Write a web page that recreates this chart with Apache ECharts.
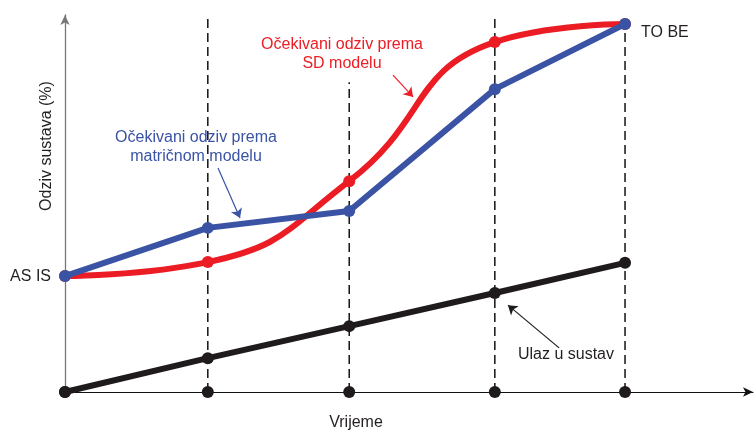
<!DOCTYPE html>
<html>
<head>
<meta charset="utf-8">
<script src="https://cdn.jsdelivr.net/npm/echarts@6/dist/echarts.min.js"></script>
<style>
  html, body { margin: 0; padding: 0; background: #fff; }
  #chart { width: 754px; height: 432px; }
</style>
</head>
<body>
<div id="chart"></div>
<script>
// vremenske tocke (od AS IS do TO BE)
const steps = [0, 1.02, 2.03, 3.07, 4];
// ulaz u sustav (crna)
const ulaz = [0, 9.2, 17.9, 26.9, 35.1];
// ocekivani odziv prema matricnom modelu (plava)
const matricni = [31.5, 44.6, 49.2, 82.3, 100];
// ocekivani odziv prema SD modelu (crvena)
const sdModel = [31.5, 35.3, 57.3, 95.1, 100];
// vrh isprekidanih okomica
const dashTops = [null, 102.4, 84.2, 101.6, 100];

const RED = '#ec1c24';
const BLUE = '#3a53a4';
const BLACK = '#1f1a1b';
const FONT = '"Liberation Sans", Arial, sans-serif';

const chart = echarts.init(document.getElementById('chart'));

const dashSeries = [];
steps.forEach((x, i) => {
  if (dashTops[i] == null) return;
  dashSeries.push({
    type: 'line',
    data: [[x, 0], [x, dashTops[i]]],
    symbol: 'none',
    silent: true,
    z: 1,
    lineStyle: { color: '#111', width: 1.5, type: [9, 5] }
  });
});

function arrow(from, to, color) {
  return [{ coord: from }, { coord: to, lineStyle: { color: color, width: 1.2, type: 'solid' } }];
}

const option = {
  animation: false,
  grid: { left: 65, right: 1, top: 15, bottom: 40 },
  xAxis: {
    type: 'value', min: 0, max: 4.914,
    axisLine: { lineStyle: { color: '#111', width: 1.2 }, symbol: ['none', 'arrow'], symbolSize: [7, 10] },
    axisTick: { show: false }, axisLabel: { show: false }, splitLine: { show: false }
  },
  yAxis: {
    type: 'value', min: 0, max: 102.45,
    axisLine: { show: true, onZero: false, lineStyle: { color: '#777', width: 1.3 }, symbol: ['none', 'arrow'], symbolSize: [7, 10] },
    axisTick: { show: false }, axisLabel: { show: false }, splitLine: { show: false }
  },
  series: [
    ...dashSeries,
    {
      name: 'os',
      type: 'scatter',
      data: steps.map(x => [x, 0]),
      symbolSize: 12,
      itemStyle: { color: BLACK, opacity: 1 },
      z: 7
    },
    {
      name: 'Ulaz u sustav',
      type: 'line',
      data: steps.map((x, i) => [x, ulaz[i]]),
      symbol: 'circle', symbolSize: 12,
      lineStyle: { color: BLACK, width: 6 },
      itemStyle: { color: BLACK },
      z: 4,
      markLine: {
        silent: true, symbol: ['none', 'arrow'], symbolSize: 9,
        label: { show: false },
        lineStyle: { color: BLACK, width: 1.2, type: 'solid' },
        data: [
          arrow([3.529, 12.0], [3.164, 23.6], BLACK),
          arrow([1.093, 60.9], [1.25, 47.3], BLUE),
          arrow([2.343, 86.1], [2.486, 80.2], RED)
        ]
      }
    },
    {
      name: 'SD model',
      type: 'line',
      data: steps.map((x, i) => [x, sdModel[i]]),
      smooth: 0.5,
      symbol: 'circle', symbolSize: 12,
      lineStyle: { color: RED, width: 6 },
      itemStyle: { color: RED },
      z: 5
    },
    {
      name: 'Matricni model',
      type: 'line',
      data: steps.map((x, i) => [x, matricni[i]]),
      symbol: 'circle', symbolSize: 12,
      lineStyle: { color: BLUE, width: 6 },
      itemStyle: { color: BLUE },
      z: 6
    }
  ],
  graphic: [
    { type: 'text', x: 342, y: 54, style: { text: 'Očekivani odziv prema\nSD modelu', fill: RED, font: '16px ' + FONT, align: 'center', verticalAlign: 'middle', lineHeight: 19 } },
    { type: 'text', x: 196, y: 147, style: { text: 'Očekivani odziv prema\nmatričnom modelu', fill: BLUE, font: '16px ' + FONT, align: 'center', verticalAlign: 'middle', lineHeight: 19 } },
    { type: 'text', x: 51, y: 277, style: { text: 'AS IS', fill: '#231f20', font: '16px ' + FONT, align: 'right', verticalAlign: 'middle' } },
    { type: 'text', x: 641, y: 33, style: { text: 'TO BE', fill: '#231f20', font: '16px ' + FONT, align: 'left', verticalAlign: 'middle' } },
    { type: 'text', x: 566, y: 355, style: { text: 'Ulaz u sustav', fill: '#231f20', font: '16px ' + FONT, align: 'center', verticalAlign: 'middle' } },
    { type: 'text', x: 356, y: 423, style: { text: 'Vrijeme', fill: '#231f20', font: '16px ' + FONT, align: 'center', verticalAlign: 'middle' } },
    { type: 'text', x: 47, y: 146, rotation: Math.PI / 2, style: { text: 'Odziv sustava (%)', fill: '#231f20', font: '16px ' + FONT, align: 'center', verticalAlign: 'middle' } }
  ]
};

chart.setOption(option);
</script>
</body>
</html>
